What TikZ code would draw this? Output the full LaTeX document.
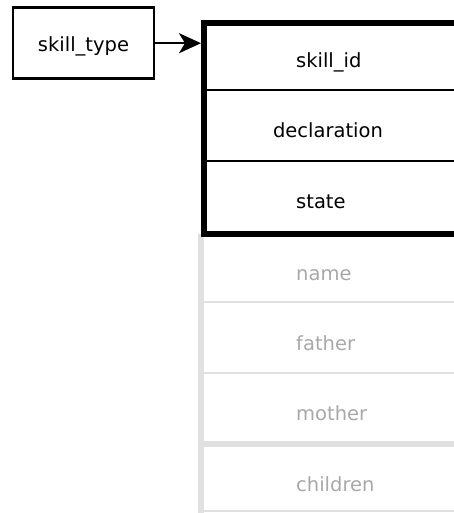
\documentclass[tikz,border=0pt]{standalone}
\usepackage{fontspec}
\setmainfont{DejaVu Sans}
\usetikzlibrary{arrows.meta}
\definecolor{fadeline}{HTML}{E0E0E0}
\definecolor{fadetext}{HTML}{A8A8A8}
\begin{document}
\begin{tikzpicture}[x=1pt,y=-1pt,
  lbl/.style={inner sep=0pt,font=\fontsize{19.5}{23}\selectfont},
  field/.style={lbl,anchor=base west},
  ghost/.style={field,text=fadetext},
  row/.style={line width=2pt},
  ghostrow/.style={draw=fadeline,line width=2.2pt}]
\useasboundingbox (0,0) rectangle (454,513);
\clip (0,0) rectangle (454,513);

% type box
\node[draw,line width=2.6pt,minimum width=141pt,minimum height=71pt,inner sep=0pt] (st) at (83.5,43.2) {};
\node[lbl,anchor=base] (stl) at (83.5,52) {skill\_type};

% inherited (faded) part of the struct
\coordinate (gtop) at (201,234);
\coordinate (gbot) at (201,513);
\draw[draw=fadeline,line width=5.5pt] (gtop) -- (gbot);
\draw[ghostrow] (203.5,302) -- (460,302);
\draw[ghostrow] (203.5,373) -- (460,373);
\draw[draw=fadeline,line width=5.5pt] (203.5,444) -- (460,444);
\draw[ghostrow] (203.5,511) -- (460,511);

% own fields of the struct
\node[draw,line width=5.8pt,anchor=north west,minimum width=300pt,minimum height=210.8pt,inner sep=0pt] (tbl) at (201,20.5) {};
\draw[row] (203.5,90) -- (460,90);
\draw[row] (203.5,161) -- (460,161);

\draw[line width=2.2pt,-{Stealth[length=22pt,width=20pt,inset=6pt]}] (st.east) -- (st.east -| tbl.west);

\node[field] (f1) at (296,68) {skill\_id};
\node[lbl,anchor=base] (f2) at (328,138) {declaration};
\node[field] (f3) at (296,208) {state};
\node[ghost] (g1) at (296,280) {name};
\node[ghost] (g2) at (296,350) {father};
\node[ghost] (g3) at (296,420) {mother};
\node[ghost] (g4) at (296,491) {children};
\end{tikzpicture}
\end{document}
